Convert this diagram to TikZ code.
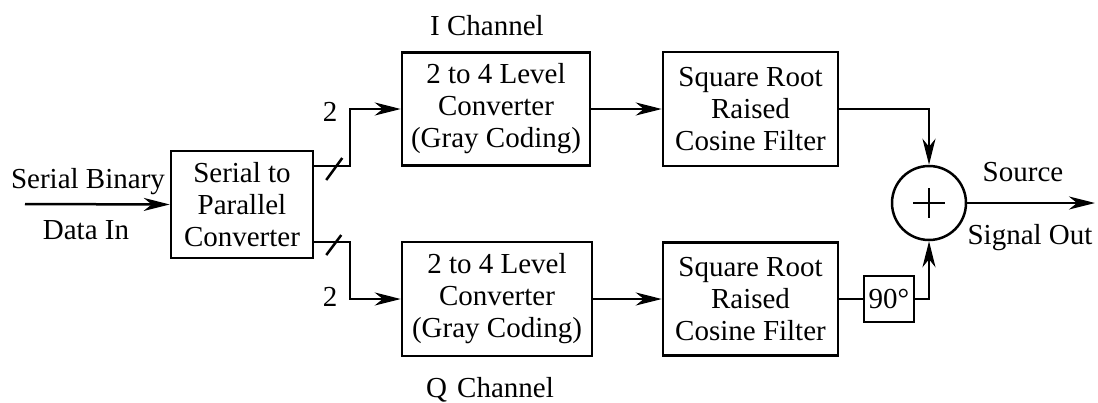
\documentclass[tikz,border=0pt]{standalone}
\usepackage{fontspec}
\setmainfont{Liberation Serif}
\usetikzlibrary{arrows.meta,calc}
\begin{document}
\begin{tikzpicture}[x=1pt,y=-1pt,
  blk/.style={draw, line width=2.5pt, inner sep=0pt, align=center, font=\fontsize{29}{32}\selectfont},
  ln/.style={line width=2.5pt},
  arr/.style={ln, -{Stealth[length=26pt,width=13pt,inset=8pt]}},
  lbl/.style={font=\fontsize{29}{32}\selectfont, inner sep=0pt}]
\useasboundingbox (0,0) rectangle (1098,402);
% blocks
\node[blk, minimum width=142pt, minimum height=107pt] (s2p) at (242,204.5) {Serial to\\Parallel\\Converter};
\node[blk, minimum width=188pt, minimum height=113pt] (l1) at (496,109) {2 to 4 Level\\Converter\\(Gray Coding)};
\node[blk, minimum width=190pt, minimum height=114pt] (l2) at (497,299) {2 to 4 Level\\Converter\\(Gray Coding)};
\node[blk, minimum width=175pt, minimum height=114pt] (f1) at (750.5,109) {Square Root\\Raised\\Cosine Filter};
\node[blk, minimum width=175pt, minimum height=113pt] (f2) at (750.5,299) {Square Root\\Raised\\Cosine Filter};
\node[blk, minimum width=50pt, minimum height=46pt] (ph) at (889,299) {90°};
\node[draw, circle, line width=2.5pt, minimum size=74pt, inner sep=0pt] (sum) at (929,203) {};
\draw[ln] ($(sum.center)+(-16,0)$) -- ($(sum.center)+(16,0)$);
\draw[ln] ($(sum.center)+(0,-15)$) -- ($(sum.center)+(0,15)$);
% coordinates
\coordinate (in) at (25,204);
\coordinate (out) at (1095,203);
\coordinate (tb) at (350,166);
\coordinate (bb) at (350,242);
% connectors
\draw[arr] (in) -- (s2p.west);
\draw[arr] (s2p.east |- tb) -- (tb) |- (l1.west);
\draw[arr] (s2p.east |- bb) -- (bb) |- (l2.west);
\draw[ln] ($(s2p.east |- tb)+(12,14)$) -- ++(16,-22);
\draw[ln] ($(s2p.east |- bb)+(12,13)$) -- ++(15,-20);
\draw[arr] (l1.east) -- (f1.west);
\draw[arr] (l2.east) -- (f2.west);
\draw[arr] (f1.east) -| (sum.north);
\draw[ln] (f2.east) -- (ph.west);
\draw[arr] (ph.east) -| (sum.south);
\draw[arr] (sum.east) -- (out);
% labels
\node[lbl] (ich) at (487,26) {I Channel};
\node[lbl] (qch) at (490,390) {Q\hspace{0.35em}Channel};
\node[lbl] (n1) at (330,112) {2};
\node[lbl] (n2) at (330,297) {2};
\node[lbl] (sb) at (88,182) {Serial Binary};
\node[lbl] (di) at (86,230) {Data In};
\node[lbl] (src) at (1023,172) {Source};
\node[lbl] (so) at (1030,238) {Signal Out};
\end{tikzpicture}
\end{document}
